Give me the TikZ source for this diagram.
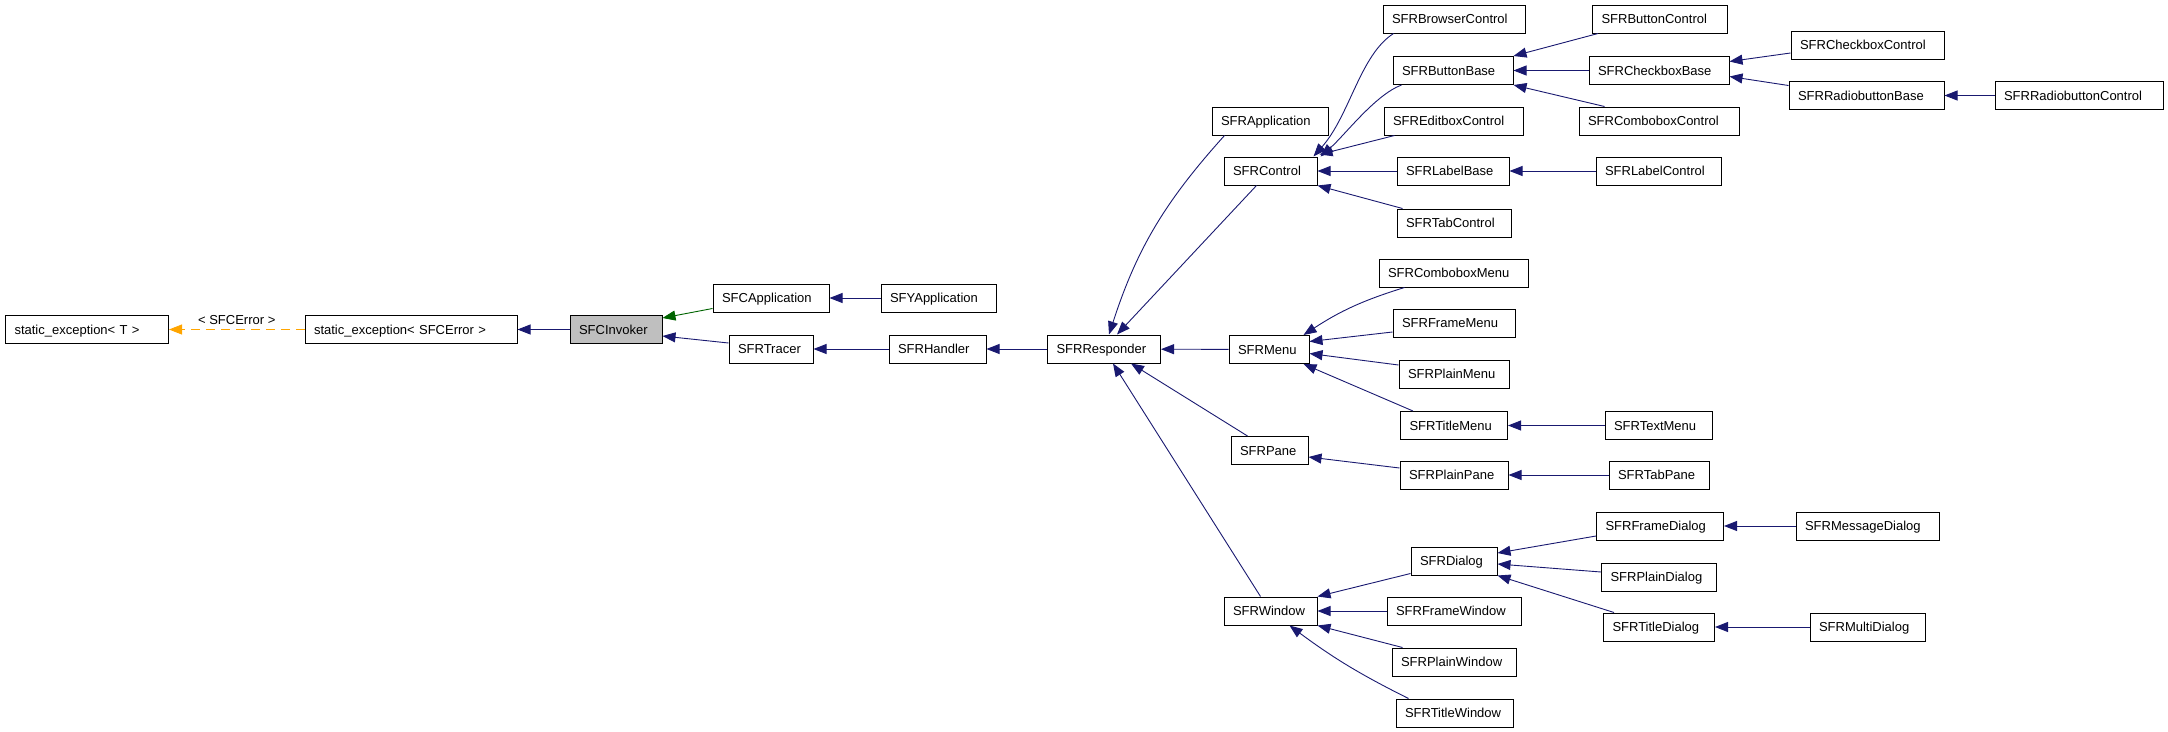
\documentclass[tikz,border=0pt]{standalone}
\usepackage{fontspec}
\setmainfont{Liberation Sans}
\usetikzlibrary{arrows.meta}
\definecolor{midblue}{HTML}{191970}
\definecolor{dkgreen}{HTML}{006400}
\definecolor{tmplorange}{HTML}{FFA500}
\definecolor{invgray}{HTML}{BFBFBF}

\begin{document}
\begin{tikzpicture}[x=1pt,y=-1pt,font=\fontsize{13}{15}\selectfont,
cls/.style={draw,line width=1pt,text width=#1,align=left,inner xsep=9pt,inner ysep=0pt,
  minimum height=28pt,text height=10pt,text depth=0.6pt},
inh/.style={draw=midblue,line width=0.9pt,-{Triangle[length=13pt,width=10pt]}},
prot/.style={inh,draw=dkgreen},
tmpl/.style={inh,draw=tmplorange,dash pattern=on 9pt off 6pt}]
\useasboundingbox (0,0) rectangle (2168,731);
%classes
\node[cls=145] (stT) at (87,329.5) {static\_exception< T >};
\node[cls=194] (stS) at (411,329.5) {static\_exception< SFCError >};
\node[cls=74,fill=invgray] (inv) at (616,329.5) {SFCInvoker};
\node[cls=98] (capp) at (771,298) {SFCApplication};
\node[cls=97] (yapp) at (938.5,298) {SFYApplication};
\node[cls=66] (tracer) at (771,349) {SFRTracer};
\node[cls=79] (handler) at (937.5,349) {SFRHandler};
\node[cls=95] (resp) at (1104,349) {SFRResponder};
\node[cls=98] (rapp) at (1270,121) {SFRApplication};
\node[cls=75] (ctrl) at (1270.5,171) {SFRControl};
\node[cls=62] (menu) at (1269,349.5) {SFRMenu};
\node[cls=59] (pane) at (1269.5,450.5) {SFRPane};
\node[cls=75] (win) at (1270.5,611) {SFRWindow};
\node[cls=124] (browser) at (1454,19) {SFRBrowserControl};
\node[cls=102] (bbase) at (1453,70.5) {SFRButtonBase};
\node[cls=121] (edit) at (1453.5,121) {SFREditboxControl};
\node[cls=94] (lbase) at (1453,171) {SFRLabelBase};
\node[cls=96] (tabc) at (1454,223) {SFRTabControl};
\node[cls=131] (cmenu) at (1453.5,273) {SFRComboboxMenu};
\node[cls=104] (fmenu) at (1454,323) {SFRFrameMenu};
\node[cls=92] (pmenu) at (1454,374) {SFRPlainMenu};
\node[cls=89] (tmenu) at (1454,425.5) {SFRTitleMenu};
\node[cls=90] (ppane) at (1454,475) {SFRPlainPane};
\node[cls=68] (dlg) at (1454,561) {SFRDialog};
\node[cls=116] (fwin) at (1454,611) {SFRFrameWindow};
\node[cls=106] (pwin) at (1454,662) {SFRPlainWindow};
\node[cls=99] (twin) at (1454.5,713) {SFRTitleWindow};
\node[cls=117] (bctrl) at (1660,19) {SFRButtonControl};
\node[cls=122] (cbase) at (1659,70.5) {SFRCheckboxBase};
\node[cls=142] (combc) at (1659,121) {SFRComboboxControl};
\node[cls=107] (lctrl) at (1658.5,171) {SFRLabelControl};
\node[cls=89] (textm) at (1658.5,425.5) {SFRTextMenu};
\node[cls=82] (tpane) at (1659,475) {SFRTabPane};
\node[cls=109] (fdlg) at (1660,526) {SFRFrameDialog};
\node[cls=97] (pdlg) at (1659,577) {SFRPlainDialog};
\node[cls=93] (tdlg) at (1659,627) {SFRTitleDialog};
\node[cls=135] (cbctrl) at (1867.5,45) {SFRCheckboxControl};
\node[cls=137] (rbase) at (1866.5,95.5) {SFRRadiobuttonBase};
\node[cls=125] (mdlg) at (1867.5,526) {SFRMessageDialog};
\node[cls=97] (multi) at (1867.5,627) {SFRMultiDialog};
\node[cls=150] (rbctrl) at (2079,95.5) {SFRRadiobuttonControl};
%inheritance
\draw[tmpl] (stS) -- node[above=1pt]{< SFCError >} (stT);
\draw[inh] (inv) -- (stS);
\draw[prot] ([yshift=4pt]capp.south west) -- ([yshift=-3pt]inv.north east);
\draw[inh] ([yshift=6pt]tracer.west) -- ([yshift=-6.5pt]inv.east);
\draw[inh] (yapp) -- (capp);
\draw[inh] (handler) -- (tracer);
\draw[inh] (resp) -- (handler);
\draw[inh] ([xshift=13pt]rapp.south west) to[out=228,in=72] ([xshift=5pt]resp.north);
\draw[inh] ([xshift=-14pt]ctrl.south) -- ([xshift=13pt]resp.north);
\draw[inh] (menu) -- (resp);
\draw[inh] ([xshift=-22pt]pane.north) -- ([xshift=27pt]resp.south);
\draw[inh] ([xshift=-10pt]win.north) -- ([xshift=9pt]resp.south);
%controls
\draw[inh] ([xshift=11pt]browser.south west) .. controls (1360,55) and (1350,115) .. ([xshift=-4pt]ctrl.north east);
\draw[inh] ([xshift=9pt]bbase.south west) .. controls (1375,95) and (1345,135) .. ([xshift=3pt]ctrl.north east);
\draw[inh] ([xshift=11pt]edit.south west) -- ([xshift=2pt,yshift=2pt]ctrl.north east);
\draw[inh] (lbase) -- (ctrl);
\draw[inh] ([xshift=6pt]tabc.north west) -- (ctrl.south east);
\draw[inh] ([xshift=6pt]bctrl.south west) -- (bbase.north east);
\draw[inh] (cbase) -- (bbase);
\draw[inh] ([xshift=26pt]combc.north west) -- (bbase.south east);
\draw[inh] (lctrl) -- (lbase);
\draw[inh] ([yshift=-8pt]cbctrl.west) -- ([yshift=9pt]cbase.east);
\draw[inh] ([yshift=10pt]rbase.west) -- ([yshift=-6pt]cbase.east);
\draw[inh] (rbctrl) -- (rbase);
%menus, panes
\draw[inh] ([xshift=26pt]cmenu.south west) to[bend right=8] ([xshift=-6pt]menu.north east);
\draw[inh] ([yshift=-9pt]fmenu.west) -- ([yshift=8pt]menu.east);
\draw[inh] ([yshift=9pt]pmenu.west) -- ([yshift=-4pt]menu.east);
\draw[inh] ([xshift=13pt]tmenu.north west) -- ([xshift=-6pt]menu.south east);
\draw[inh] (textm) -- (tmenu);
\draw[inh] ([yshift=7pt]ppane.west) -- ([yshift=-6.5pt]pane.east);
\draw[inh] (tpane) -- (ppane);
%windows
\draw[inh] ([yshift=2pt]dlg.south west) -- (win.north east);
\draw[inh] (fwin) -- (win);
\draw[inh] ([xshift=11pt]pwin.north west) -- (win.south east);
\draw[inh] ([xshift=13pt]twin.north west) to[bend left=5] ([xshift=19pt]win.south);
\draw[inh] ([yshift=-10pt]fdlg.west) -- ([yshift=8pt]dlg.east);
\draw[inh] ([yshift=5pt]pdlg.west) -- ([yshift=-3pt]dlg.east);
\draw[inh] ([xshift=11pt]tdlg.north west) -- (dlg.south east);
\draw[inh] (mdlg) -- (fdlg);
\draw[inh] (multi) -- (tdlg);
\end{tikzpicture}
\end{document}
